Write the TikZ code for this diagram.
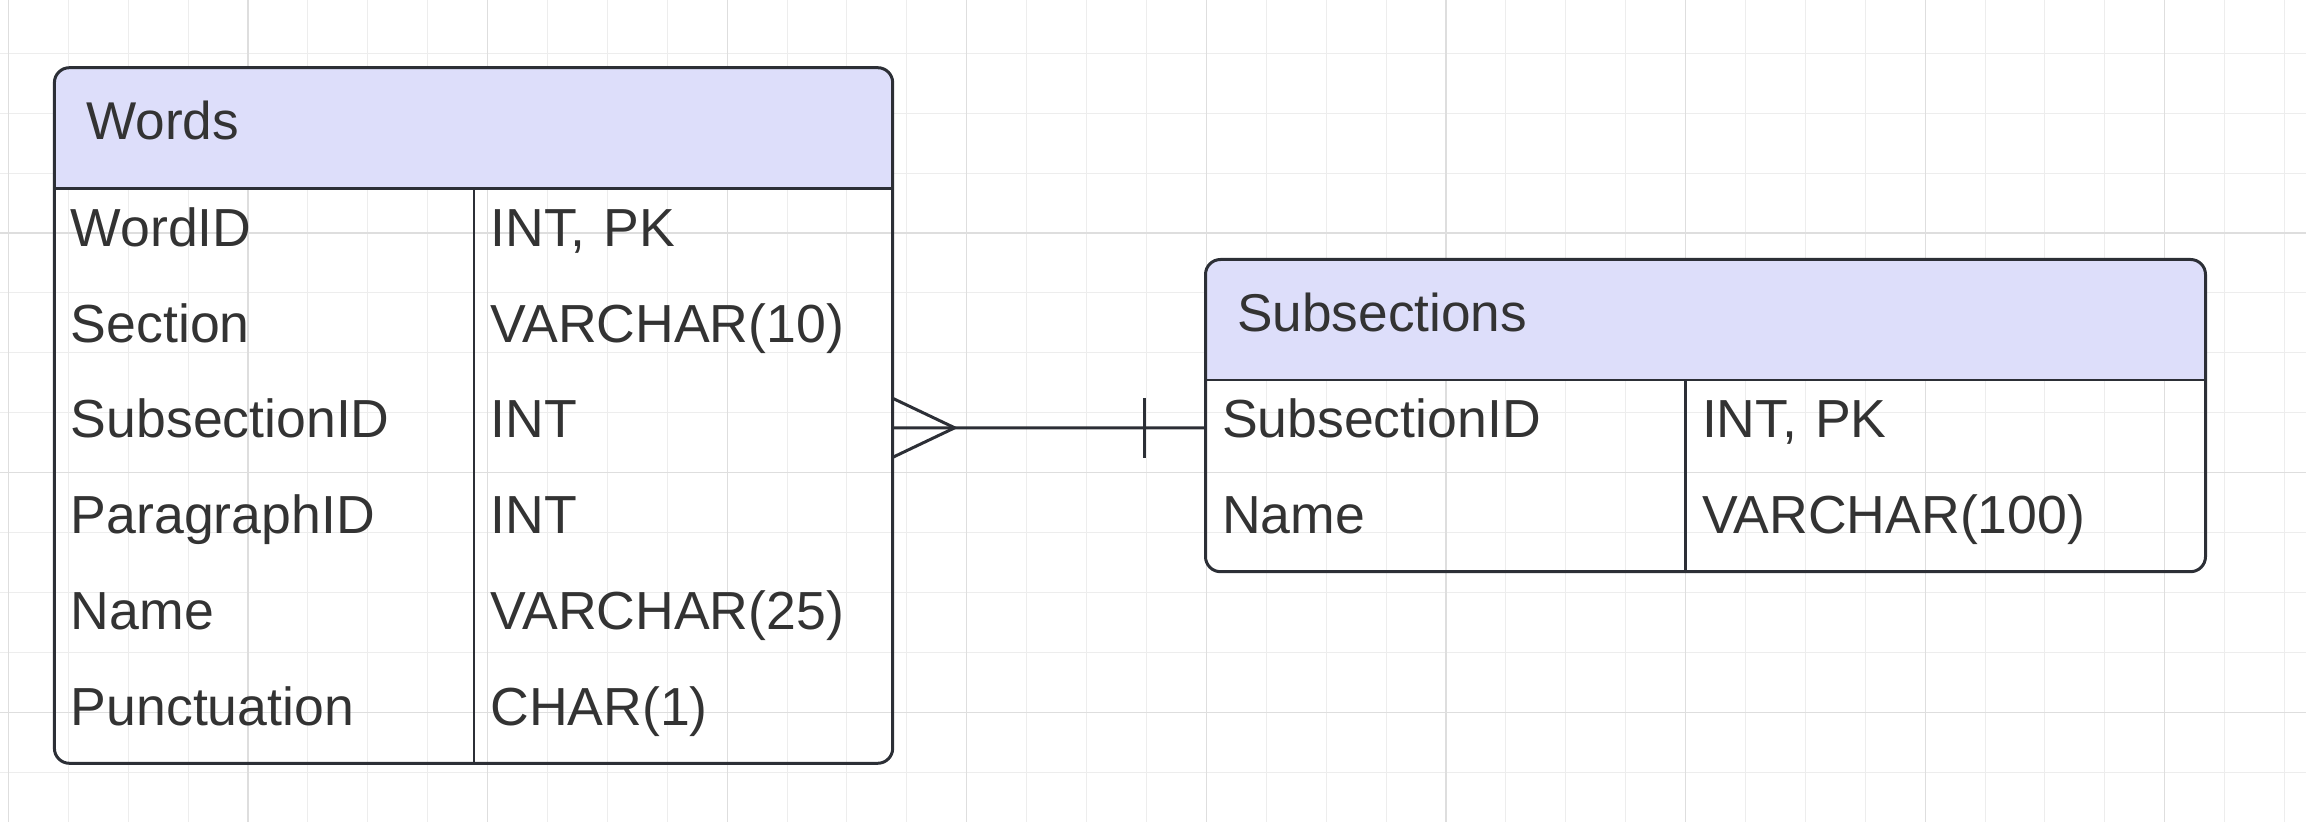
\documentclass[tikz,border=0pt]{standalone}
\usepackage{fontspec}
\setmainfont{Liberation Sans}
\usetikzlibrary{positioning}

\definecolor{headfill}{HTML}{DDDEFA}
\definecolor{edge}{HTML}{2C2F36}
\definecolor{ink}{HTML}{333333}
\definecolor{gridminor}{HTML}{EDEDED}
\definecolor{gridmajor}{HTML}{DEDEDE}

\begin{document}
\begin{tikzpicture}[x=0.25pt, y=-0.25pt,
  tableframe/.style={draw=edge, line width=0.75pt, rounded corners=3.75pt},
  seprule/.style={draw=edge, line width=0.7pt},
  tabletitle/.style={anchor=base west, inner sep=0pt, text=ink, font=\fontsize{13.3}{15}\selectfont},
  fieldcell/.style={anchor=north west, inner xsep=4.125pt, inner ysep=0pt, outer sep=0pt,
    minimum height=23.96pt, text height=14.5pt, text depth=9.46pt, align=left,
    text=ink, font=\fontsize{13.4}{15}\selectfont},
  minorline/.style={draw=gridminor, line width=0.25pt},
  majorline/.style={draw=gridmajor, line width=0.3pt},
  conn/.style={draw=edge, line width=0.75pt}]

\useasboundingbox (0,0) rectangle (2306,822);

% background grid
\foreach \k in {0,...,38} \draw[minorline] ({8.3+59.9*\k},0) -- ({8.3+59.9*\k},822);
\foreach \k in {0,...,12} \draw[minorline] (0,{53.3+59.9*\k}) -- (2306,{53.3+59.9*\k});
\foreach \k in {0,4,...,36} \draw[majorline] ({8.3+59.9*\k},0) -- ({8.3+59.9*\k},822);
\foreach \k in {3,7,11} \draw[majorline] (0,{53.3+59.9*\k}) -- (2306,{53.3+59.9*\k});

\def\entity(#1,#2,#3,#4,#5,#6){
  \begin{scope}[shift={(#3,#4)}]
    \fill[headfill, rounded corners=3.75pt] (0,0) rectangle (#5,120.5);
    \fill[headfill] (0,60) rectangle (#5,120.5);
    \draw[tableframe] (0,0) rectangle (#5,#6);
    \node[tabletitle] (#1-title) at (31,71.6) {#2};
  \end{scope}
}

\entity(words,Words,54.4,67.7,838.3,695.6)

\foreach \fname/\ftype [count=\i] in {WordID/{INT, PK},Section/VARCHAR(10),SubsectionID/INT,ParagraphID/INT,Name/VARCHAR(25),Punctuation/CHAR(1)}{
  \node[fieldcell, text width=96.65pt] (words-n\i) at (54.4,{188.2+95.85*(\i-1)}) {\fname};
  \node[fieldcell, text width=96.43pt] (words-t\i) at (words-n\i.north east) {\ftype};
}
\draw[seprule] (words-n1.north west) -- (words-t1.north east);
\draw[seprule] (words-n1.north east) -- (words-n6.south east);

\entity(subs,Subsections,1205.5,259.5,1000,312.2)

\foreach \fname/\ftype [count=\i] in {SubsectionID/{INT, PK},Name/VARCHAR(100)}{
  \node[fieldcell, text width=111.75pt] (subs-n\i) at (1205.5,{380+95.85*(\i-1)}) {\fname};
  \node[fieldcell, text width=121.75pt] (subs-t\i) at (subs-n\i.north east) {\ftype};
}
\draw[seprule] (subs-n1.north west) -- (subs-t1.north east);
\draw[seprule] (subs-n1.north east) -- (subs-n2.south east);

% many to one
\draw[conn] (words-t3.east) -- (subs-n1.west);
\draw[conn] (words-t3.east) ++(0,-29.5) -- ++(62,29.5) -- ++(-62,29.5);
\draw[conn] (subs-n1.west) ++(-61.5,-30) -- ++(0,60);

\end{tikzpicture}
\end{document}
